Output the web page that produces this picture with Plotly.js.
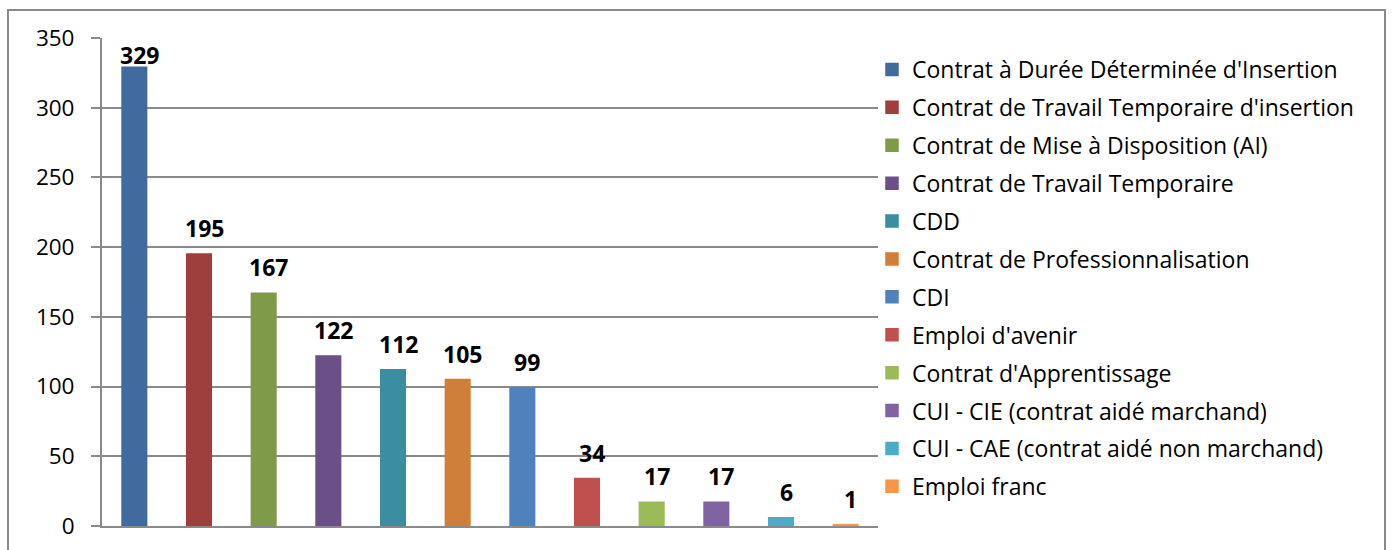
<!DOCTYPE html>
<html>
<head>
<meta charset="utf-8">
<script src="https://cdn.plot.ly/plotly-3.0.1.min.js"></script>
<style>
  html, body { margin: 0; padding: 0; background: #fff; }
  #frame { position: absolute; left: 7px; top: 9px; width: 1379px; height: 560px; border: 2px solid #8a8a8a; box-sizing: border-box; pointer-events: none; z-index: 5; }
  #chart { position: absolute; left: 0; top: 0; width: 1392px; height: 550px; }
</style>
</head>
<body>
<div id="chart"></div>
<div id="frame"></div>
<script>
const categories = [
  "Contrat à Durée Déterminée d'Insertion",
  "Contrat de Travail Temporaire d'insertion",
  "Contrat de Mise à Disposition (AI)",
  "Contrat de Travail Temporaire",
  "CDD",
  "Contrat de Professionnalisation",
  "CDI",
  "Emploi d'avenir",
  "Contrat d'Apprentissage",
  "CUI - CIE (contrat aidé marchand)",
  "CUI - CAE (contrat aidé non marchand)",
  "Emploi franc"
];
const values = [329, 195, 167, 122, 112, 105, 99, 34, 17, 17, 6, 1];
const colors = ["#416A9E", "#9E3F3D", "#7F9A48", "#6A5086", "#3B8DA0", "#D07F3A",
                "#4F81BD", "#C0504D", "#9BBB59", "#8064A2", "#4BACC6", "#F79646"];
const yTicks = [0, 50, 100, 150, 200, 250, 300, 350];

const FONT = "Open Sans, Noto Sans, sans-serif";
const marginL = 102, marginR = 1392 - 878, marginT = 38, marginB = 24;
const plotH = 550 - marginT - marginB;
const plotW = 1392 - marginL - marginR;
const yMax = 350;
const pxPerUnit = plotH / yMax;

const traces = categories.map((c, i) => ({
  type: "bar",
  name: c,
  x: [c],
  y: [values[i]],
  width: 0.38,
  marker: { color: colors[i], line: { color: colors[i], width: 1.5 } },
  legendgroup: "g" + i,
  hoverinfo: "name+y"
}));

const annotations = categories.map((c, i) => {
  const barTop = (yMax - values[i]) * pxPerUnit;
  const center = Math.max(barTop - 26, 17);
  return {
    x: c, y: values[i], xref: "x", yref: "y",
    text: "<b>" + values[i] + "</b>",
    showarrow: false,
    yanchor: "middle",
    xshift: 5,
    yshift: barTop - center,
    font: { family: FONT, size: 23, color: "#000" }
  };
});

const layout = {
  width: 1392, height: 550,
  margin: { l: marginL, r: marginR, t: marginT, b: marginB, pad: 0 },
  paper_bgcolor: "#fff", plot_bgcolor: "#fff",
  barmode: "overlay",
  showlegend: true,
  legend: {
    x: (872 - marginL) / plotW, xanchor: "left",
    y: 1 - (48 - marginT) / plotH, yanchor: "top",
    font: { family: FONT, size: 23, color: "#000" },
    tracegroupgap: 5,
    bgcolor: "rgba(0,0,0,0)"
  },
  xaxis: {
    type: "category",
    categoryarray: categories,
    range: [-0.5, 11.5],
    showticklabels: false,
    ticks: "",
    showgrid: false,
    showline: true, linecolor: "#8a8a8a", linewidth: 2,
    zeroline: false, fixedrange: true
  },
  yaxis: {
    range: [0, yMax],
    tickvals: yTicks,
    ticktext: yTicks.map(String),
    ticks: "outside", ticklen: 9, tickcolor: "#8a8a8a", tickwidth: 2,
    ticklabelstandoff: 12,
    showline: true, linecolor: "#8a8a8a", linewidth: 2,
    showgrid: true, gridcolor: "#8a8a8a", gridwidth: 2,
    zeroline: false,
    tickfont: { family: FONT, size: 22.5, color: "#000" },
    fixedrange: true
  },
  annotations: annotations
};

Plotly.newPlot("chart", traces, layout, { displayModeBar: false, staticPlot: true });
</script>
</body>
</html>
